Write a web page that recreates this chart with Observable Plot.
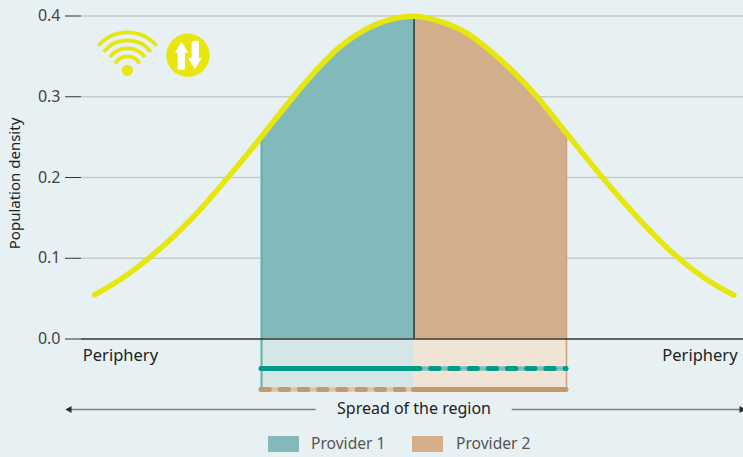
<!DOCTYPE html>
<html><head><meta charset="utf-8">
<script src="https://cdn.jsdelivr.net/npm/d3@7"></script>
<script src="https://cdn.jsdelivr.net/npm/@observablehq/plot@0.6"></script>
<style>
html,body{margin:0;padding:0;background:#e7f0f2;width:743px;height:457px;overflow:hidden;font-family:"Noto Sans",sans-serif}
svg{display:block}
#legend{position:relative;height:27px;font-size:15.6px;color:#555}
#legend .sw{position:absolute;top:6px;width:31px;height:16px}
#legend .lb{position:absolute;top:3px;line-height:21px;white-space:nowrap}
</style></head><body>
<div id="chart"></div>
<div id="legend"></div>
<script>
// Values. x is in spread units from the centre of the region.
const curveX = [-2.095,-1.936,-1.75,-1.564,-1.389,-1.225,-1.061,-1,-0.799,-0.635,-0.482,-0.329,-0.176,0,0.174,0.349,0.523,0.677,0.818,1,1.234,1.474,1.715,1.911,2.097];
const curveY = [0.0547,0.0724,0.0984,0.1291,0.163,0.199,0.2362,0.2508,0.298,0.3341,0.3624,0.3823,0.3945,0.3998,0.393,0.3785,0.3532,0.3263,0.2975,0.2547,0.2004,0.1489,0.1034,0.0746,0.0542];
const providers = ["Provider 1","Provider 2"];
const providerFill = ["#82babb","#d2ae8a"];
const bandFill = ["#d5e6e6","#f0e4d7"];
const yTicks = [0,0.1,0.2,0.3,0.4];
const sideLabels = ["Periphery","Periphery"];
const sideX = [-1.925,1.875];
const edge = [-1,0,1];
const lineLevel = [-0.0365,-0.0626];
const spreadLevel = -0.0873;
const spreadGap = [-0.641,0.644];
const spreadEnds = [-2.27,2.16];
const spreadHeads = [-2.259,2.148];
const labelLevel = -0.0204;

const curve = curveX.map((x,i)=>({x,y:curveY[i]}));
const left = curve.filter(d=>d.x>=edge[0]&&d.x<=edge[1]);
const right = curve.filter(d=>d.x>=edge[1]&&d.x<=edge[2]);

function icons(index,{x,y}){
  const g = d3.create("svg:g");
  const wifi = g.append("g").attr("transform",`translate(${x(-1.876)},${y(0.3321)})`);
  wifi.append("circle").attr("r",5.6).attr("fill","#e8e60f");
  [[38,50],[30,52],[22,53],[14,60]].forEach(([r,a])=>{
    wifi.append("path")
      .attr("d",d3.arc()({innerRadius:r,outerRadius:r,startAngle:-a*Math.PI/180,endAngle:a*Math.PI/180}))
      .attr("fill","none").attr("stroke","#e8e60f").attr("stroke-width",3.8).attr("stroke-linecap","round");
  });
  const sw = g.append("g").attr("transform",`translate(${x(-1.479)},${y(0.3507)})`);
  sw.append("circle").attr("r",21.7).attr("fill","#e8e60f");
  sw.append("path").attr("fill","#fff").attr("d","M-6.5,-13.6L-13,-2.5L-10.3,-2.5L-10.3,12.5Q-10.3,14.7 -6.6,14.7Q-3,14.7 -3,12.5L-3,-2.5L0.3,-2.5Z");
  sw.append("path").attr("fill","#fff").attr("d","M6.8,14L13.7,3L11,3L11,-12.5Q11,-14.6 7.3,-14.6Q3.7,-14.6 3.7,-12.5L3.7,3L0.3,3Z");
  return g.node();
}

const plot = Plot.plot({
  width:743,height:430,
  marginTop:0,marginBottom:0,marginLeft:81,marginRight:0,
  style:{background:"transparent",fontFamily:"'Noto Sans',sans-serif",fontSize:"15px",overflow:"hidden"},
  x:{type:"linear",domain:[-2,2],range:[108.5,718.5],axis:null},
  y:{type:"linear",domain:[0,0.4],range:[338.5,15.5]},
  marks:[
    Plot.gridY(yTicks.slice(1),{stroke:"#c5cbce",strokeOpacity:1,strokeWidth:1.5}),
    Plot.rect([0,1],{x1:i=>edge[i],x2:i=>edge[i+1],y1:0,y2:lineLevel[1],fill:i=>bandFill[i]}),
    Plot.areaY(left,{x:"x",y:"y",fill:providerFill[0],curve:"monotone-x"}),
    Plot.areaY(right,{x:"x",y:"y",fill:providerFill[1],curve:"monotone-x"}),
    Plot.ruleX([edge[0]],{y1:lineLevel[1],y2:0.2508,stroke:"#5fb5ab",strokeWidth:2}),
    Plot.ruleX([edge[2]],{y1:lineLevel[1],y2:0.2547,stroke:"#c9a27c",strokeWidth:1.5}),
    Plot.ruleX([edge[1]],{y1:0,y2:0.3998,stroke:"#1f3535",strokeWidth:1.5}),
    Plot.axisY({ticks:yTicks,tickFormat:".1f",tickSize:16,tickPadding:5,stroke:"#333",fill:"#444",fontSize:16,label:null}),
    Plot.ruleY([0],{stroke:"#333",strokeWidth:1.5}),
    Plot.line(curve,{x:"x",y:"y",stroke:"#e8e60f",strokeWidth:5.5,strokeLinecap:"round",curve:"monotone-x"}),
    // Provider 1 reach
    Plot.ruleY([lineLevel[0]],{x1:0,x2:edge[2],stroke:"#7fbdb8",strokeWidth:4.5,strokeLinecap:"round"}),
    Plot.ruleY([lineLevel[0]],{x1:0,x2:edge[2],stroke:"#00998a",strokeWidth:5,strokeLinecap:"round",strokeDasharray:"8.3,10.9",strokeDashoffset:2}),
    Plot.ruleY([lineLevel[0]],{x1:edge[0],x2:0,stroke:"#00998a",strokeWidth:5,strokeLinecap:"round"}),
    // Provider 2 reach
    Plot.ruleY([lineLevel[1]],{x1:edge[0],x2:0,stroke:"#e0c3a5",strokeWidth:4.5,strokeLinecap:"round"}),
    Plot.ruleY([lineLevel[1]],{x1:edge[0],x2:0,stroke:"#c49a6c",strokeWidth:5,strokeLinecap:"round",strokeDasharray:"8.3,10.9"}),
    Plot.ruleY([lineLevel[1]],{x1:0,x2:edge[2],stroke:"#c49a6c",strokeWidth:5,strokeLinecap:"round"}),
    // Spread arrow
    Plot.ruleY([spreadLevel],{x1:spreadEnds[0],x2:spreadGap[0],stroke:"#808080",strokeWidth:1.5}),
    Plot.ruleY([spreadLevel],{x1:spreadGap[1],x2:spreadEnds[1],stroke:"#808080",strokeWidth:1.5}),
    Plot.dot(spreadHeads,{x:d=>d,y:spreadLevel,symbol:"triangle",r:2.6,fill:"#2a2a2a",stroke:null,rotate:d=>d<0?-90:90}),
    Plot.text(["Spread of the region"],{x:0,y:spreadLevel,fill:"#222",fontSize:16,dy:-1}),
    Plot.text(sideLabels,{x:(d,i)=>sideX[i],y:labelLevel,fill:"#222",fontSize:16.5}),
    Plot.text(["Population density"],{x:-2.613,y:0.1926,rotate:-90,fill:"#222",fontSize:15}),
    icons
  ]
});
document.getElementById("chart").appendChild(plot);
const legend = d3.select("#legend");
const swX=[268,412], lbX=[311,456];
providers.forEach((p,i)=>{
  legend.append("div").attr("class","sw").style("left",swX[i]+"px").style("background",providerFill[i]);
  legend.append("div").attr("class","lb").style("left",lbX[i]+"px").text(p);
});
</script>
</body></html>
